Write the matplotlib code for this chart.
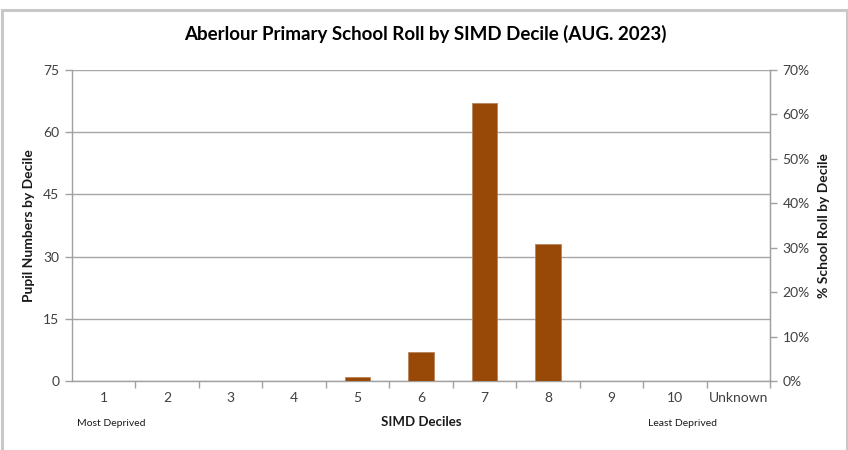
import matplotlib
matplotlib.use("Agg")
import matplotlib.pyplot as plt
from matplotlib.patches import Rectangle
from matplotlib.ticker import FuncFormatter

categories = ["1", "2", "3", "4", "5", "6", "7", "8", "9", "10", "Unknown"]
pupils = [0, 0, 0, 0, 1, 7, 67, 33, 0, 0, 0]
left_ticks = [0, 15, 30, 45, 60, 75]
right_ticks = [0, 0.1, 0.2, 0.3, 0.4, 0.5, 0.6, 0.7]

plt.rcParams['font.family'] = ['Lato', 'DejaVu Sans']
W, H = 848, 450
fig = plt.figure(figsize=(W / 100, H / 100), dpi=100)
fig.patch.set_facecolor("white")

# frame border
fig.add_artist(Rectangle((1.5 / W, -0.05), (W - 3) / W, (H - 10) / H + 0.05,
                         transform=fig.transFigure, fill=False,
                         edgecolor="#c8c8c8", linewidth=2.2))

ax = fig.add_axes([72 / W, 1 - 381 / H, (770 - 72) / W, (381 - 70) / H])
x = list(range(len(categories)))
ax.bar(x, pupils, width=0.4, color="#984807", edgecolor="#b8845a",
       linewidth=0.6, zorder=3)
ax.set_xlim(-0.5, len(categories) - 0.5)
ax.set_ylim(0, 75)
ax.set_yticks(left_ticks)
ax.grid(axis="y", color="#a6a6a6", linewidth=1.0, zorder=0)
ax.set_xticks(x)
ax.set_xticklabels(categories)
ax.set_xticks([i + 0.5 for i in x], minor=True)
ax.tick_params(axis="x", which="major", length=0, pad=8, labelsize=10,
               labelcolor="#404040")
ax.tick_params(axis="x", which="minor", length=5, color="#a0a0a0", width=1)
ax.tick_params(axis="y", length=5, color="#a0a0a0", width=1, labelsize=10,
               labelcolor="#404040", pad=4)
for s in ["top"]:
    ax.spines[s].set_visible(False)
for s in ["left", "bottom", "right"]:
    ax.spines[s].set_color("#a0a0a0")
    ax.spines[s].set_linewidth(1.0)

ax.set_ylabel("Pupil Numbers by Decile", fontsize=10, fontweight="bold",
              color="#1a1a1a", labelpad=6)

ax2 = ax.twinx()
ax2.set_ylim(0, 0.7)
ax2.set_yticks(right_ticks)
ax2.yaxis.set_major_formatter(FuncFormatter(lambda v, p: f"{round(v * 100)}%"))
ax2.tick_params(axis="y", length=5, color="#a0a0a0", width=1, labelsize=10,
                labelcolor="#404040", pad=4)
for s in ["top", "left", "bottom"]:
    ax2.spines[s].set_visible(False)
ax2.spines["right"].set_color("#a0a0a0")
ax2.set_ylabel("% School Roll by Decile", fontsize=10, fontweight="bold",
               color="#1a1a1a", labelpad=6)

fig.text(425 / W, 1 - 34 / H, "Aberlour Primary School Roll by SIMD Decile (AUG. 2023)",
         ha="center", va="center", fontsize=13.5, fontweight="bold", color="#000000")
fig.text(421 / W, 1 - 422 / H, "SIMD Deciles", ha="center", va="center",
         fontsize=9.5, fontweight="bold", color="#1a1a1a")
fig.text(111 / W, 1 - 424 / H, "Most Deprived", ha="center", va="center",
         fontsize=7.5, color="#1a1a1a")
fig.text(682 / W, 1 - 424 / H, "Least Deprived", ha="center", va="center",
         fontsize=7.5, color="#1a1a1a")

fig.savefig("out.png", dpi=100, facecolor="white")
